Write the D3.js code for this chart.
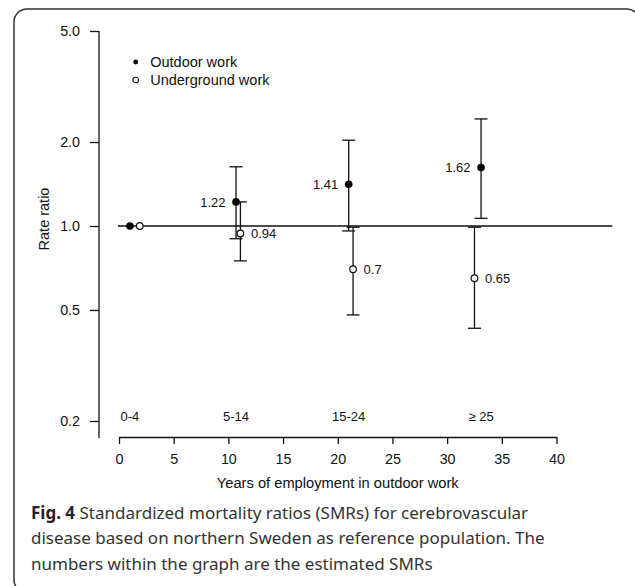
<!DOCTYPE html>
<html>
<head>
<meta charset="utf-8">
<script src="https://cdn.jsdelivr.net/npm/d3@7"></script>
<style>
  body { margin: 0; background: #fff; }
  svg { display: block; }
  .chart text { font-family: "Liberation Sans", Arial, sans-serif; fill: #111; }
  .caption { font-family: "Noto Sans", "Open Sans", sans-serif; fill: #333; }
</style>
</head>
<body>
<div class="canvas"></div>
<script>
// 그룹 이름 (x축 구간)
const groups = ["0-4", "5-14", "15-24", "\u2265 25"];

// Outdoor work
const outdoorX = [1.0, 10.7, 21.0, 33.1];
const outdoorRR = [1.0, 1.22, 1.41, 1.62];
const outdoorLo = [null, 0.90, 0.96, 1.065];
const outdoorHi = [null, 1.63, 2.03, 2.42];
const outdoorLabels = ["", "1.22", "1.41", "1.62"];

// Underground work
const underX = [1.9, 11.1, 21.4, 32.5];
const underRR = [1.0, 0.94, 0.70, 0.65];
const underLo = [null, 0.75, 0.48, 0.43];
const underHi = [null, 1.22, 0.99, 0.99];
const underLabels = ["", "0.94", "0.7", "0.65"];

const yTicks = [0.2, 0.5, 1.0, 2.0, 5.0];
const xTicks = [0, 5, 10, 15, 20, 25, 30, 35, 40];

const width = 635;
const height = 586;

const x = d3.scaleLinear().domain([0, 40]).range([119, 556.5]);
const y = d3.scaleLog().domain([0.2, 5]).range([421, 31]);
const xAxisY = 437;
const yAxisX = 99;

const svg = d3.select(".canvas").append("svg")
  .attr("width", width)
  .attr("height", height);

// 바깥 테두리
svg.append("rect")
  .attr("x", 14).attr("y", 9)
  .attr("width", 626).attr("height", 584)
  .attr("rx", 13).attr("ry", 13)
  .attr("fill", "none")
  .attr("stroke", "#333")
  .attr("stroke-width", 1.5);

const g = svg.append("g").attr("class", "chart");

// y축
const gy = g.append("g")
  .attr("transform", `translate(${yAxisX},0)`)
  .call(d3.axisLeft(y).tickValues(yTicks).tickFormat(d3.format(".1f")).tickSize(9).tickPadding(10).tickSizeOuter(0));
gy.select(".domain").remove();
gy.append("line")
  .attr("x1", 0).attr("x2", 0)
  .attr("y1", y(5)).attr("y2", xAxisY + 1)
  .attr("stroke", "#111").attr("stroke-width", 1.3);
gy.selectAll(".tick line").attr("stroke", "#111").attr("stroke-width", 1.3);
gy.selectAll(".tick text").style("font-size", "14.3px").attr("fill", "#111");

// x축
const gx = g.append("g")
  .attr("transform", `translate(0,${xAxisY})`)
  .call(d3.axisBottom(x).tickValues(xTicks).tickSize(7).tickPadding(10).tickSizeOuter(0));
gx.select(".domain").attr("stroke", "#111").attr("stroke-width", 1.3);
gx.selectAll(".tick line").attr("stroke", "#111").attr("stroke-width", 1.3);
gx.selectAll(".tick text").style("font-size", "14.3px").attr("fill", "#111");

// 축 이름
g.append("text")
  .attr("x", x(20))
  .attr("y", 488)
  .attr("text-anchor", "middle")
  .style("font-size", "14.7px")
  .text("Years of employment in outdoor work");

g.append("text")
  .attr("transform", "translate(49,219) rotate(-90)")
  .attr("text-anchor", "middle")
  .style("font-size", "14.5px")
  .text("Rate ratio");

// 기준선 (rate ratio = 1)
g.append("line")
  .attr("x1", x(-0.1)).attr("x2", x(45.1))
  .attr("y1", y(1)).attr("y2", y(1))
  .attr("stroke", "#111").attr("stroke-width", 1.3);

// 구간 라벨
g.selectAll(".group-label")
  .data(groups)
  .join("text")
  .attr("class", "group-label")
  .attr("x", (d, i) => x(outdoorX[i]))
  .attr("y", y(0.2))
  .attr("text-anchor", "middle")
  .style("font-size", "13px")
  .text(d => d);

// 오차 막대 그리기
const capW = 6.5;
function drawBars(xs, lo, hi) {
  const idx = d3.range(xs.length).filter(i => lo[i] != null);
  const bars = g.append("g");
  bars.selectAll(".stem").data(idx).join("line")
    .attr("x1", i => x(xs[i])).attr("x2", i => x(xs[i]))
    .attr("y1", i => y(lo[i])).attr("y2", i => y(hi[i]))
    .attr("stroke", "#111").attr("stroke-width", 1.3);
  bars.selectAll(".capHi").data(idx).join("line")
    .attr("x1", i => x(xs[i]) - capW).attr("x2", i => x(xs[i]) + capW)
    .attr("y1", i => y(hi[i])).attr("y2", i => y(hi[i]))
    .attr("stroke", "#111").attr("stroke-width", 1.3);
  bars.selectAll(".capLo").data(idx).join("line")
    .attr("x1", i => x(xs[i]) - capW).attr("x2", i => x(xs[i]) + capW)
    .attr("y1", i => y(lo[i])).attr("y2", i => y(lo[i]))
    .attr("stroke", "#111").attr("stroke-width", 1.3);
}
drawBars(outdoorX, outdoorLo, outdoorHi);
drawBars(underX, underLo, underHi);

// 점
g.selectAll(".pt-out").data(d3.range(outdoorX.length)).join("circle")
  .attr("cx", i => x(outdoorX[i])).attr("cy", i => y(outdoorRR[i]))
  .attr("r", 3.8).attr("fill", "#000");

g.selectAll(".pt-under").data(d3.range(underX.length)).join("circle")
  .attr("cx", i => x(underX[i])).attr("cy", i => y(underRR[i]))
  .attr("r", 3.3).attr("fill", "#fff").attr("stroke", "#111").attr("stroke-width", 1.2);

// 값 라벨
g.selectAll(".lab-out").data(d3.range(outdoorX.length)).join("text")
  .attr("x", i => x(outdoorX[i]) - 10.5).attr("y", i => y(outdoorRR[i]))
  .attr("dy", "0.36em").attr("text-anchor", "end")
  .style("font-size", "13px")
  .text(i => outdoorLabels[i]);

g.selectAll(".lab-under").data(d3.range(underX.length)).join("text")
  .attr("x", i => x(underX[i]) + 10.5).attr("y", i => y(underRR[i]))
  .attr("dy", "0.36em").attr("text-anchor", "start")
  .style("font-size", "13px")
  .text(i => underLabels[i]);

// 범례
const legend = g.append("g").attr("transform", "translate(135.7,0)");
legend.append("circle").attr("cx", 0).attr("cy", 62).attr("r", 2.4).attr("fill", "#000");
legend.append("circle").attr("cx", 0).attr("cy", 80).attr("r", 2.8)
  .attr("fill", "#fff").attr("stroke", "#111").attr("stroke-width", 1.1);
legend.append("text").attr("x", 14.5).attr("y", 62).attr("dy", "0.36em")
  .style("font-size", "14.5px").text("Outdoor work");
legend.append("text").attr("x", 14.5).attr("y", 80).attr("dy", "0.36em")
  .style("font-size", "14.5px").text("Underground work");

// 캡션
const captionLines = [
  [["Fig. 4", true], [" Standardized mortality ratios (SMRs) for cerebrovascular", false]],
  [["disease based on northern Sweden as reference population. The", false]],
  [["numbers within the graph are the estimated SMRs", false]]
];
const cap = svg.append("text").attr("class", "caption").style("font-size", "17px");
captionLines.forEach((line, li) => {
  line.forEach(([t, bold], k) => {
    const ts = cap.append("tspan").text(t);
    if (k === 0) ts.attr("x", 31).attr("y", 519 + li * 25.3);
    if (bold) ts.style("font-weight", "700").attr("fill", "#222");
  });
});
</script>
</body>
</html>
